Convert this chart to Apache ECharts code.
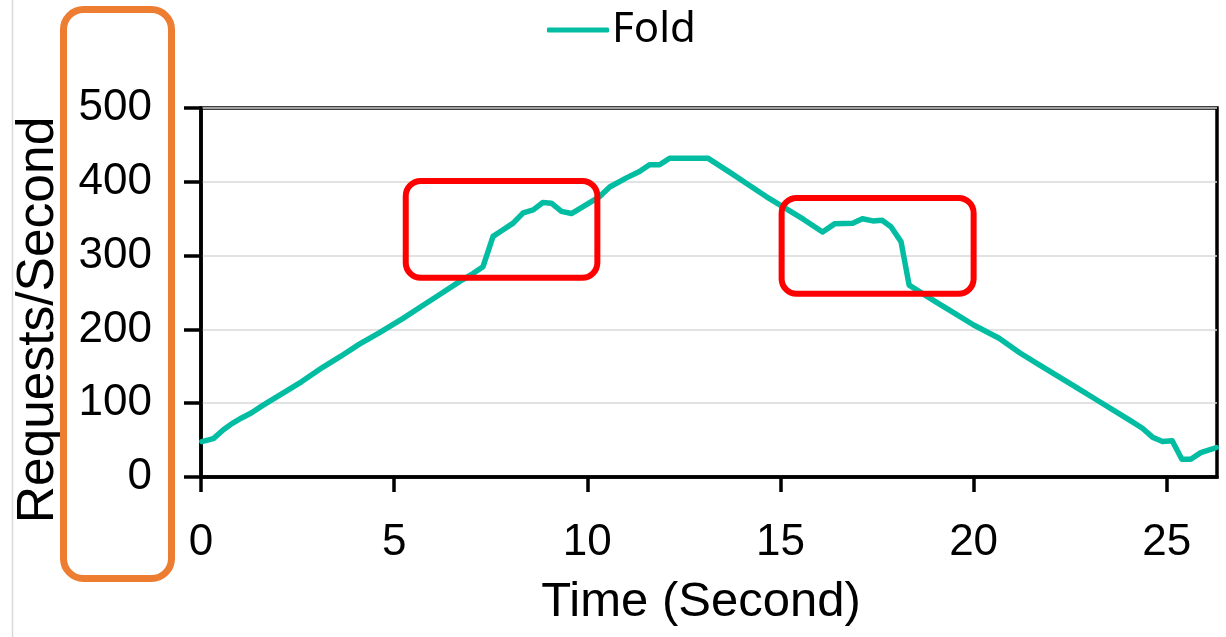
<!DOCTYPE html>
<html>
<head>
<meta charset="utf-8">
<title>Fold – Requests/Second over Time</title>
<script src="https://cdn.jsdelivr.net/npm/echarts@6/dist/echarts.min.js"></script>
<style>
  html, body { margin: 0; padding: 0; background: #fff; }
  #chart { width: 1226px; height: 637px; }
</style>
</head>
<body>
<div id="chart"></div>
<script>
// Sample times (seconds) and measured request rate for the "Fold" run
const timeSec = [
  0.02, 0.32, 0.58, 0.79, 1.05, 1.31, 1.6, 2.1, 2.6, 3.16, 3.6, 4.1, 4.6, 5.23,
  5.7, 6.2, 6.7, 7.05, 7.3, 7.56, 7.82, 8.08, 8.34, 8.6, 8.85, 9.07, 9.33, 9.59,
  10.32, 10.58, 11.0, 11.35, 11.61, 11.87, 12.13, 12.6, 13.12, 13.77, 14.2, 14.63,
  15.1, 15.6, 16.09, 16.4, 16.87, 17.12, 17.39, 17.63, 17.86, 18.12, 18.33, 19.0,
  19.5, 20.0, 20.66, 21.2, 21.7, 22.2, 22.7, 23.2, 23.7, 24.1, 24.37, 24.63,
  24.89, 25.14, 25.39, 25.62, 25.88, 26.18, 26.28
];
const foldRps = [
  48, 52, 64, 72, 80, 87, 97, 113, 129, 149, 163, 180, 195, 215,
  231, 248, 265, 276, 285, 326, 335, 344, 358, 362, 372, 371, 360, 357,
  380, 393, 405, 414, 423, 423, 432, 432, 432, 410, 395, 380,
  365, 349, 332, 343, 344, 350, 347, 348, 339, 319, 260, 238,
  222, 206, 188, 168, 152, 136, 120, 104, 88, 75, 66, 54,
  48, 49, 24, 24, 33, 38, 40
];
const seriesName = 'Fold';
const xTickValues = [0, 5, 10, 15, 20, 25];
const yTickValues = [0, 100, 200, 300, 400, 500];

// Highlighted regions (time range, request range)
const highlightA = { t0: 5.3, t1: 10.26, v0: 270, v1: 401 };
const highlightB = { t0: 15.03, t1: 20.0, v0: 248.4, v1: 378 };

const points = timeSec.map((t, i) => [t, foldRps[i]]);
const LINE_COLOR = '#03BDA3';
const SANS = '"Liberation Sans", Arial, sans-serif';

const chart = echarts.init(document.getElementById('chart'), null, { renderer: 'canvas' });

chart.setOption({
  animation: false,
  backgroundColor: '#fff',
  legend: {
    data: [seriesName],
    left: 542,
    top: 4,
    icon: 'roundRect',
    itemWidth: 62,
    itemHeight: 5,
    itemGap: 10,
    textStyle: { fontFamily: '"Noto Sans", sans-serif', fontSize: 42, color: '#000', padding: [0, 0, 0, -2] }
  },
  grid: {
    left: 201, right: 9, top: 108, bottom: 160,
    show: true, borderColor: '#000', borderWidth: 3.5, backgroundColor: 'transparent'
  },
  xAxis: {
    type: 'value',
    min: 0,
    max: 26.3,
    interval: 5,
    axisLine: { show: true, onZero: false, lineStyle: { color: '#000', width: 3.5 } },
    axisTick: { show: true, inside: false, length: 15, lineStyle: { color: '#000', width: 3.5 }, customValues: xTickValues },
    axisLabel: { margin: 44, fontFamily: SANS, fontSize: 44, color: '#000', customValues: xTickValues },
    splitLine: { show: false }
  },
  yAxis: {
    type: 'value',
    min: 0,
    max: 500,
    interval: 100,
    axisLine: { show: true, onZero: false, lineStyle: { color: '#000', width: 3.5 } },
    axisTick: { show: true, inside: false, length: 17, lineStyle: { color: '#000', width: 3.5 } },
    axisLabel: { margin: 49, fontFamily: SANS, fontSize: 44, color: '#000', customValues: yTickValues },
    splitLine: { show: true, lineStyle: { color: '#D9D9D9', width: 1.5 } }
  },
  series: [{
    name: seriesName,
    type: 'line',
    data: points,
    showSymbol: false,
    symbol: 'none',
    lineStyle: { color: LINE_COLOR, width: 5.5, join: 'round', cap: 'round' },
    itemStyle: { color: LINE_COLOR },
    z: 3
  }]
});

function regionRect(r) {
  const p0 = chart.convertToPixel({ gridIndex: 0 }, [r.t0, r.v1]);
  const p1 = chart.convertToPixel({ gridIndex: 0 }, [r.t1, r.v0]);
  return { x: p0[0], y: p0[1], width: p1[0] - p0[0], height: p1[1] - p0[1], r: 15 };
}

chart.setOption({
  graphic: [
    // faint frame edge on the left
    {
      type: 'line', silent: true, z: 1,
      shape: { x1: 12.5, y1: 0, x2: 12.5, y2: 637 },
      style: { stroke: '#D9D9D9', lineWidth: 1.5 }
    },
    // axis titles
    {
      type: 'text', silent: true, z: 10,
      x: 39, y: 320, rotation: Math.PI / 2,
      style: {
        text: 'Requests/Second', fontFamily: SANS, fontSize: 51.5,
        fill: '#000', align: 'center', verticalAlign: 'middle'
      }
    },
    {
      type: 'text', silent: true, z: 10,
      x: 701, y: 602,
      style: {
        text: 'Time (Second)', fontFamily: SANS, fontSize: 49,
        fill: '#000', align: 'center', verticalAlign: 'middle'
      }
    },
    // highlighted regions
    {
      type: 'rect', silent: true, z: 20,
      shape: regionRect(highlightA),
      style: { fill: 'none', stroke: '#FF0000', lineWidth: 6 }
    },
    {
      type: 'rect', silent: true, z: 20,
      shape: regionRect(highlightB),
      style: { fill: 'none', stroke: '#FF0000', lineWidth: 6 }
    },
    // frame around the y-axis tick labels
    {
      type: 'rect', silent: true, z: 30,
      shape: { x: 63.5, y: 9.5, width: 108, height: 569, r: 20 },
      style: { fill: 'none', stroke: '#ED7D31', lineWidth: 7 }
    }
  ]
});
</script>
</body>
</html>
